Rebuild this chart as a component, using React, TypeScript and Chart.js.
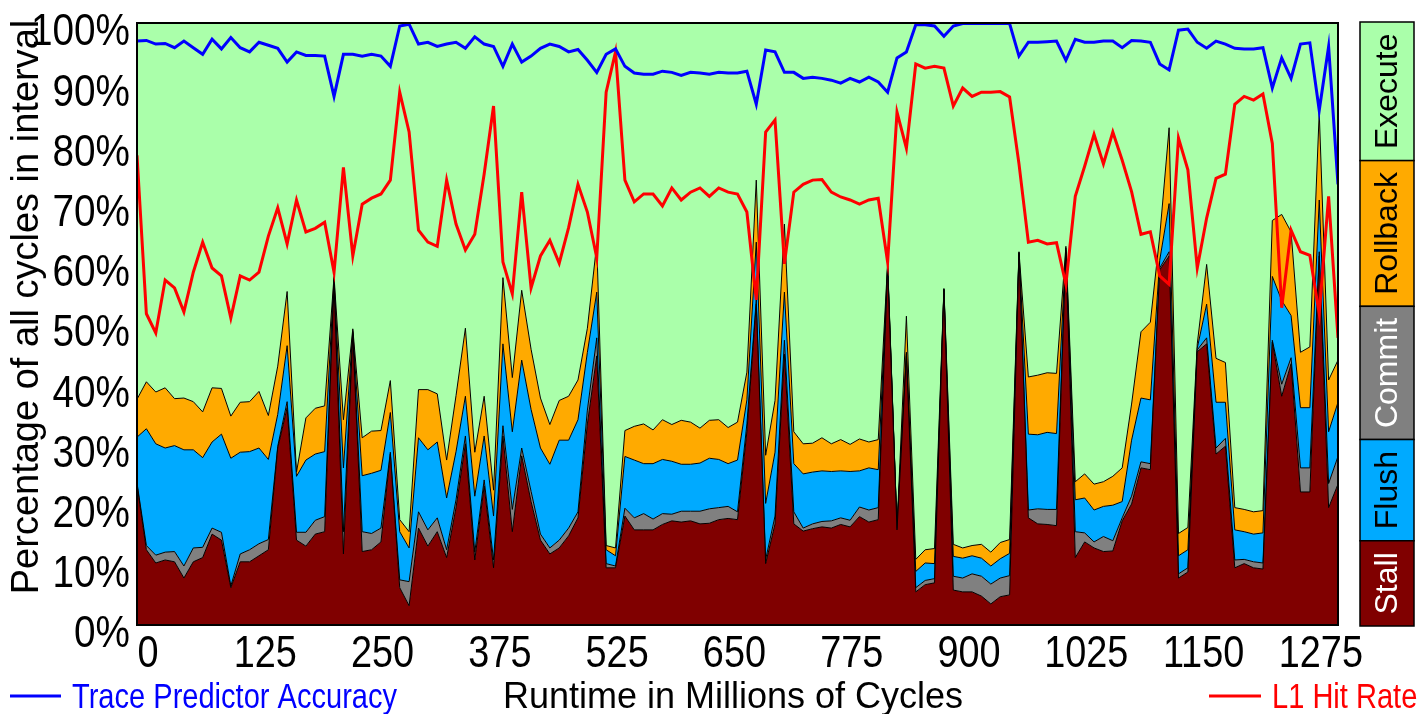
import React, { useEffect, useRef } from 'react';
import { Chart, registerables } from 'chart.js';

Chart.register(...registerables);

const W = 1422;
const H = 714;
const FONT = "'Liberation Sans', Arial, sans-serif";

// x tick labels (millions of cycles), one every 12.5 samples of this series
const X_TICK_LABELS = ['0', '125', '250', '375', '525', '650', '775', '900', '1025', '1150', '1275'];
const SAMPLES_PER_TICK = 12.5;
const Y_TICKS = [0, 10, 20, 30, 40, 50, 60, 70, 80, 90, 100];

// stacked layers, % of cycles in each interval
const stall = [23.3, 12.5, 10.3, 10.8, 10.5, 7.8, 10.5, 11.2, 15.1, 14.1, 6.2, 10.5, 10.5, 11.5, 12.5, 29.4, 36.1, 14.1, 13.1, 15.1, 15.5, 56.6, 11.8, 48.3, 12.2, 12.5, 13.8, 28.4, 6.2, 3.2, 16.1, 13.1, 15.5, 11.2, 19.5, 30.1, 10.8, 23.1, 9.5, 31.4, 15.5, 28.1, 20.5, 14.1, 11.8, 12.8, 14.8, 17.8, 33.4, 44.7, 9.5, 9.5, 18.1, 15.8, 15.8, 15.8, 16.7, 17.3, 17.1, 17.3, 16.8, 16.9, 17.5, 17.7, 17.5, 32.1, 53.3, 10.2, 16.8, 45.0, 16.8, 15.6, 16.0, 16.3, 16.1, 16.7, 16.3, 18.0, 17.1, 17.5, 59.3, 15.8, 44.7, 5.5, 6.7, 7.0, 55.6, 5.8, 5.5, 5.5, 4.8, 3.5, 4.7, 5.0, 61.6, 17.8, 16.8, 16.7, 16.5, 62.0, 11.2, 13.8, 12.8, 12.2, 12.3, 17.3, 20.1, 26.1, 25.8, 59.0, 61.3, 7.8, 8.8, 45.4, 46.7, 28.4, 29.7, 9.5, 10.2, 9.5, 9.3, 47.0, 38.0, 43.4, 22.1, 22.1, 61.3, 19.5, 23.4];
const commit = [0.3, 0.7, 1.3, 1.3, 1.7, 2.0, 2.3, 1.7, 1.0, 1.3, 0.3, 1.3, 2.0, 2.0, 1.7, 0.3, 1.0, 1.3, 2.3, 2.3, 2.5, 0.7, 3.7, 0.3, 3.3, 2.7, 2.3, 0.3, 1.3, 4.0, 2.7, 2.7, 2.3, 1.3, 1.3, 1.3, 1.3, 1.0, 1.3, 1.7, 3.7, 1.3, 1.7, 1.0, 1.0, 1.3, 1.3, 1.0, 2.3, 3.0, 0.7, 0.3, 1.3, 2.0, 2.7, 1.8, 1.8, 1.1, 1.8, 1.6, 2.1, 2.4, 2.0, 2.0, 1.3, 1.3, 0.7, 0.7, 1.3, 2.3, 2.0, 0.5, 0.8, 0.9, 1.2, 1.1, 1.1, 1.6, 2.0, 2.0, 0.3, 0.2, 0.3, 0.7, 0.7, 0.7, 0.1, 2.3, 2.3, 3.0, 3.3, 3.3, 3.1, 3.2, 0.2, 1.3, 2.5, 2.5, 2.7, 0.3, 4.3, 1.5, 1.0, 2.5, 1.7, 0.5, 1.3, 1.0, 1.0, 0.3, 0.7, 0.7, 0.7, 0.3, 1.0, 1.0, 1.3, 1.3, 0.7, 1.0, 1.0, 0.3, 2.0, 1.0, 4.0, 4.0, 0.7, 4.0, 4.6];
const flush = [7.6, 19.4, 18.5, 17.3, 17.6, 19.3, 16.3, 14.9, 14.3, 16.3, 21.2, 16.9, 16.3, 15.9, 13.3, 5.3, 9.3, 9.3, 12.0, 11.0, 10.8, 0.3, 10.6, 0.3, 9.3, 10.0, 9.6, 6.6, 8.0, 5.6, 12.3, 13.3, 12.6, 8.6, 8.0, 6.6, 9.3, 7.3, 7.3, 13.6, 12.9, 14.6, 13.6, 14.3, 13.9, 16.6, 14.6, 15.3, 9.6, 7.6, 2.3, 1.7, 8.6, 9.6, 8.3, 9.2, 9.0, 8.8, 7.8, 7.8, 8.0, 8.4, 8.0, 7.1, 8.6, 4.0, 9.6, 9.3, 10.6, 8.0, 8.0, 9.0, 8.6, 8.4, 8.2, 7.8, 8.1, 6.0, 7.0, 6.3, 0.3, 0.1, 0.3, 2.7, 2.9, 2.5, 0.1, 3.3, 3.3, 3.0, 3.0, 3.0, 3.2, 3.7, 0.1, 12.6, 12.3, 12.8, 12.6, 0.3, 5.3, 5.8, 5.3, 5.0, 5.9, 2.7, 9.3, 10.6, 10.6, 1.3, 8.0, 3.0, 3.0, 0.3, 5.6, 7.6, 6.0, 5.0, 4.6, 4.6, 5.0, 10.6, 13.9, 7.0, 10.0, 10.0, 8.6, 8.6, 9.0];
const rollback = [6.3, 7.8, 8.6, 10.0, 7.8, 8.6, 8.0, 7.6, 9.0, 7.6, 7.0, 8.3, 8.3, 9.4, 7.3, 8.0, 9.0, 0.7, 7.0, 7.6, 7.6, 0.3, 8.0, 0.3, 6.3, 7.0, 6.6, 5.3, 2.0, 2.7, 8.0, 10.0, 8.0, 6.3, 9.3, 11.3, 7.3, 6.6, 4.3, 11.0, 9.0, 11.6, 10.0, 8.3, 6.6, 6.6, 7.3, 6.6, 4.0, 8.0, 0.7, 1.3, 4.3, 5.6, 6.6, 5.6, 6.6, 6.1, 7.3, 7.0, 5.8, 6.3, 6.6, 6.0, 6.3, 4.6, 10.3, 8.0, 8.6, 11.3, 5.3, 5.0, 4.8, 5.5, 4.6, 5.2, 4.5, 5.3, 4.3, 5.0, 0.3, 0.1, 6.0, 2.0, 2.2, 2.5, 0.1, 2.0, 1.7, 1.7, 2.3, 2.3, 2.7, 2.3, 0.1, 9.5, 9.9, 9.9, 10.0, 0.3, 3.0, 4.0, 4.3, 4.1, 4.8, 5.6, 6.0, 11.0, 12.9, 4.0, 12.6, 3.7, 3.7, 0.7, 6.6, 7.3, 6.6, 3.7, 3.7, 3.7, 3.7, 9.3, 14.3, 13.9, 9.2, 10.1, 14.6, 8.6, 7.0];

// lines, %
const l1HitRate = [78.0, 51.7, 48.5, 57.3, 56.0, 52.0, 58.6, 63.6, 59.3, 58.0, 51.0, 58.0, 57.3, 58.6, 64.6, 69.3, 63.3, 70.6, 65.3, 65.9, 66.9, 58.6, 76.0, 61.3, 69.9, 70.9, 71.6, 73.9, 88.5, 81.9, 65.6, 63.6, 62.9, 73.9, 66.6, 62.3, 64.9, 74.9, 86.2, 60.3, 55.0, 71.9, 56.0, 61.3, 63.9, 60.1, 66.0, 73.2, 68.6, 61.0, 88.5, 95.2, 73.9, 70.3, 71.6, 71.6, 69.6, 72.6, 70.6, 71.9, 72.6, 71.2, 72.6, 71.9, 71.6, 68.6, 54.0, 81.9, 83.9, 60.0, 71.9, 73.2, 73.9, 74.0, 71.9, 71.1, 70.6, 69.9, 70.6, 70.9, 60.3, 85.2, 79.2, 93.2, 92.5, 92.8, 92.5, 86.2, 89.2, 87.8, 88.5, 88.5, 88.6, 87.7, 76.6, 63.6, 63.9, 63.3, 63.5, 56.6, 71.2, 76.2, 81.5, 76.6, 81.9, 77.2, 72.0, 64.9, 65.3, 58.0, 56.6, 80.9, 75.6, 59.3, 67.6, 74.2, 74.9, 86.5, 87.8, 87.2, 88.2, 80.0, 52.7, 65.6, 62.0, 61.4, 51.7, 71.2, 47.7];
const traceAccuracy = [97.0, 97.1, 96.5, 96.6, 95.9, 97.0, 95.9, 94.8, 97.3, 95.7, 97.6, 95.9, 95.2, 96.8, 96.3, 95.8, 93.5, 95.2, 94.6, 94.6, 94.5, 87.8, 94.8, 94.8, 94.5, 94.8, 94.5, 92.8, 99.5, 99.8, 96.5, 96.8, 96.1, 96.5, 96.8, 95.8, 97.7, 96.5, 96.1, 92.8, 96.5, 93.5, 94.5, 95.8, 96.5, 96.1, 95.2, 95.6, 93.8, 91.8, 94.8, 95.7, 92.8, 91.7, 91.5, 91.5, 92.0, 91.8, 91.3, 91.8, 91.7, 91.5, 91.8, 91.7, 91.7, 92.0, 86.5, 95.5, 95.2, 91.8, 91.8, 90.8, 91.0, 90.8, 90.5, 90.0, 90.8, 90.2, 91.0, 90.2, 88.5, 94.2, 95.2, 99.7, 99.7, 99.5, 97.8, 99.5, 99.9, 99.9, 99.9, 99.9, 99.9, 99.9, 94.5, 96.8, 96.8, 96.9, 97.0, 93.8, 97.3, 96.8, 96.8, 97.0, 97.0, 95.9, 97.1, 97.0, 96.8, 93.2, 92.2, 98.8, 99.0, 96.8, 95.8, 97.0, 96.5, 95.8, 95.7, 95.7, 95.9, 89.2, 94.2, 90.8, 96.5, 96.7, 85.5, 96.1, 73.2];

const COLORS: Record<string, string> = {
  Stall: '#800000',
  Commit: '#808080',
  Flush: '#00aaff',
  Rollback: '#ffaa00',
  Execute: '#aaffaa',
};
const LEGEND_TEXT: Record<string, string> = {
  Stall: '#ffffff',
  Commit: '#ffffff',
  Flush: '#000000',
  Rollback: '#000000',
  Execute: '#000000',
};
const LEGEND_ORDER = ['Execute', 'Rollback', 'Commit', 'Flush', 'Stall'];

// draw horizontally condensed text (the reference uses a narrow face)
function narrowText(ctx: CanvasRenderingContext2D, text: string, x: number, y: number, sx: number, align: CanvasTextAlign) {
  ctx.save();
  ctx.translate(x, y);
  ctx.scale(sx, 1);
  ctx.textAlign = align;
  ctx.fillText(text, 0, 0);
  ctx.restore();
}

export default function App() {
  const ref = useRef<HTMLCanvasElement>(null);

  useEffect(() => {
    document.body.style.margin = '0';
    const canvas = ref.current;
    if (!canvas) return;
    const n = stall.length;
    const execute = stall.map((_, i) => +(100 - stall[i] - commit[i] - flush[i] - rollback[i]).toFixed(1));
    const pts = (arr: number[]) => arr.map((y, i) => ({ x: i, y }));

    const area = (label: string, arr: number[], fill: any, bw = 1) => ({
      type: 'line' as const,
      label,
      data: pts(arr),
      backgroundColor: COLORS[label],
      borderColor: '#000000',
      borderWidth: bw,
      fill,
      pointRadius: 0,
      tension: 0,
      order: 2,
      yAxisID: 'y',
    });
    const line = (label: string, arr: number[], color: string) => ({
      type: 'line' as const,
      label,
      data: pts(arr),
      borderColor: color,
      backgroundColor: color,
      borderWidth: 3,
      fill: false,
      pointRadius: 0,
      tension: 0,
      order: 1,
      yAxisID: 'y2',
    });

    const decor = {
      id: 'decor',
      afterDraw(chart: any) {
        const { ctx, chartArea: a } = chart;
        const xs = chart.scales.x;
        const ys = chart.scales.y;
        ctx.save();
        ctx.strokeStyle = '#000';
        ctx.lineWidth = 2;
        ctx.strokeRect(a.left, a.top, a.right - a.left, a.bottom - a.top);

        // tick labels, placed by the chart's own scales
        ctx.fillStyle = '#000';
        ctx.font = `45px ${FONT}`;
        ctx.textBaseline = 'middle';
        ys.ticks.forEach((t: any) => {
          narrowText(ctx, `${t.value}%`, 130, ys.getPixelForValue(t.value) + 10, 0.86, 'right');
        });
        ctx.font = `44px ${FONT}`;
        ctx.textBaseline = 'alphabetic';
        xs.ticks.forEach((t: any, k: number) => {
          narrowText(ctx, X_TICK_LABELS[k], xs.getPixelForValue(t.value) + 11, 667, 0.86, 'center');
        });

        // y axis title
        ctx.font = `38px ${FONT}`;
        ctx.save();
        ctx.translate(28, 307);
        ctx.rotate(-Math.PI / 2);
        ctx.textAlign = 'center';
        ctx.textBaseline = 'middle';
        ctx.fillText('Percentage of all cycles in interval', 0, 0);
        ctx.restore();

        // x axis title
        ctx.font = `36px ${FONT}`;
        ctx.textAlign = 'center';
        ctx.textBaseline = 'alphabetic';
        ctx.fillText('Runtime in Millions of Cycles', 733, 708);

        // bottom legends
        ctx.font = `35px ${FONT}`;
        ctx.lineWidth = 3;
        ctx.strokeStyle = '#0000ff';
        ctx.beginPath(); ctx.moveTo(10, 696); ctx.lineTo(61, 696); ctx.stroke();
        ctx.fillStyle = '#0000ff';
        narrowText(ctx, 'Trace Predictor Accuracy', 72, 708, 0.83, 'left');
        ctx.strokeStyle = '#ff0000';
        ctx.beginPath(); ctx.moveTo(1209, 696); ctx.lineTo(1261, 696); ctx.stroke();
        ctx.fillStyle = '#ff0000';
        narrowText(ctx, 'L1 Hit Rate', 1272, 708, 0.83, 'left');

        // right legend boxes
        ctx.font = `32px ${FONT}`;
        const widths = LEGEND_ORDER.map((t) => ctx.measureText(t).width);
        const top = a.top - 1;
        const bottom = a.bottom + 1;
        const pad = (bottom - top - widths.reduce((s: number, w: number) => s + w, 0)) / LEGEND_ORDER.length;
        const bx = 1360;
        const bw = 54;
        let y = top;
        LEGEND_ORDER.forEach((name, k) => {
          const h = widths[k] + pad;
          ctx.fillStyle = COLORS[name];
          ctx.fillRect(bx, y, bw, h);
          ctx.strokeStyle = '#000';
          ctx.lineWidth = 1.5;
          ctx.strokeRect(bx, y, bw, h);
          ctx.save();
          ctx.translate(bx + bw / 2 + 1, y + h / 2);
          ctx.rotate(-Math.PI / 2);
          ctx.textAlign = 'center';
          ctx.textBaseline = 'middle';
          ctx.fillStyle = LEGEND_TEXT[name];
          ctx.fillText(name, 0, 0);
          ctx.restore();
          y += h;
        });
        ctx.restore();
      },
    };

    const chart = new Chart(canvas, {
      type: 'line',
      data: {
        datasets: [
          area('Stall', stall, 'origin'),
          area('Commit', commit, '-1'),
          area('Flush', flush, '-1'),
          area('Rollback', rollback, '-1'),
          area('Execute', execute, '-1', 0),
          line('Trace Predictor Accuracy', traceAccuracy, '#0000ff'),
          line('L1 Hit Rate', l1HitRate, '#ff0000'),
        ] as any,
      },
      options: {
        animation: false,
        responsive: false,
        layout: { padding: { top: 23, right: 84, left: 0, bottom: 0 } },
        plugins: {
          legend: { display: false },
          tooltip: { enabled: false },
          title: { display: false },
        },
        scales: {
          x: {
            type: 'linear',
            min: 0,
            max: n - 1,
            grid: { display: false, drawTicks: false },
            border: { display: false },
            afterBuildTicks: (s: any) => {
              s.ticks = X_TICK_LABELS.map((_, k) => ({ value: k * SAMPLES_PER_TICK }));
            },
            afterFit: (s: any) => {
              s.height = H - 625;
              s.paddingLeft = 0;
              s.paddingRight = 0;
            },
            ticks: { display: false },
          },
          y: {
            stacked: true,
            min: 0,
            max: 100,
            grid: { display: false, drawTicks: false },
            border: { display: false },
            afterBuildTicks: (s: any) => {
              s.ticks = Y_TICKS.map((v) => ({ value: v }));
            },
            afterFit: (s: any) => {
              s.width = 137;
              s.paddingTop = 0;
              s.paddingBottom = 0;
            },
            ticks: { display: false },
          },
          y2: { display: false, min: 0, max: 100 },
        },
      } as any,
      plugins: [decor],
    });

    return () => chart.destroy();
  }, []);

  return (
    <div style={{ width: W, height: H, position: 'relative', overflow: 'hidden' }}>
      <canvas ref={ref} width={W} height={H} style={{ display: 'block' }} />
    </div>
  );
}
